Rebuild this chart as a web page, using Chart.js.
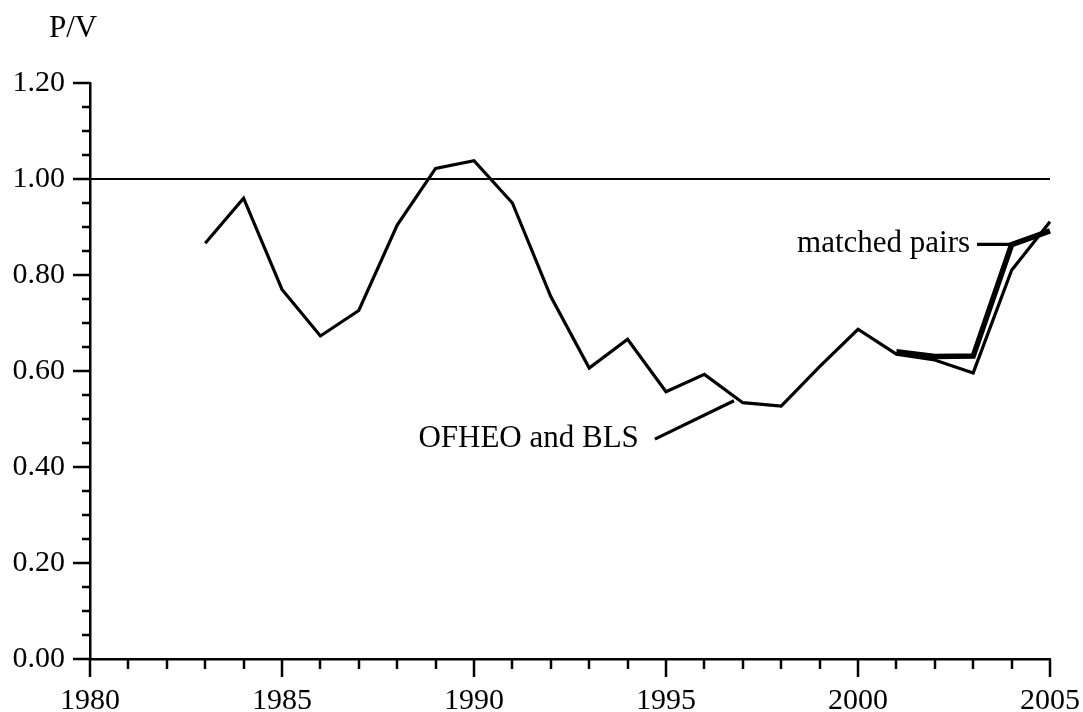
<!DOCTYPE html>
<html>
<head>
<meta charset="utf-8">
<script src="https://cdn.jsdelivr.net/npm/chart.js@4/dist/chart.umd.min.js"></script>
<style>
  body { margin: 0; background: #fff; }
  canvas { display: block; }
</style>
</head>
<body>
<canvas id="pvChart" width="1083" height="712"></canvas>
<script>
// years and values
const ofheoYears = [1983, 1984, 1985, 1986, 1987, 1988, 1989, 1990, 1991, 1992, 1993, 1994,
  1995, 1996, 1997, 1998, 1999, 2000, 2001, 2002, 2003, 2004, 2005];
const ofheoValues = [0.866, 0.960, 0.770, 0.673, 0.726, 0.904, 1.022, 1.038, 0.950, 0.755, 0.606, 0.666,
  0.557, 0.593, 0.534, 0.527, 0.609, 0.687, 0.635, 0.623, 0.596, 0.810, 0.911];

const matchedYears = [2001, 2002, 2003, 2004, 2005];
const matchedValues = [0.640, 0.630, 0.631, 0.863, 0.892];

const refLineYears = [1980, 2005];
const refLineValues = [1.0, 1.0];

const xMin = 1980, xMax = 2005;
const yMin = 0, yMax = 1.2;

// labels with leader lines (data coordinates)
const annotations = [
  { text: "OFHEO and BLS", x0: 1994.71, y0: 0.458, x1: 1996.77, y1: 0.538, gap: 16 },
  { text: "matched pairs", x0: 2003.1, y0: 0.864, x1: 2004.0, y1: 0.864, gap: 7 },
];

const FONT = "'Liberation Serif', 'Times New Roman', serif";

const toPoints = (xs, ys) => xs.map((x, i) => ({ x: x, y: ys[i] }));

// draws the tick marks (long for majors, short for minors) and the text
const decorPlugin = {
  id: "decor",
  afterDraw(chart) {
    const ctx = chart.ctx;
    const xs = chart.scales.x;
    const ys = chart.scales.y;
    const area = chart.chartArea;
    ctx.save();
    ctx.strokeStyle = "#000";
    ctx.lineWidth = 2.5;
    ctx.beginPath();
    for (let yr = xMin; yr <= xMax; yr++) {
      const px = Math.round(xs.getPixelForValue(yr));
      const len = yr % 5 === 0 ? 18 : 10;
      ctx.moveTo(px, area.bottom);
      ctx.lineTo(px, area.bottom + len);
    }
    for (let i = 0; i <= 24; i++) {
      const v = i * 0.05;
      const py = Math.round(ys.getPixelForValue(v));
      const len = i % 4 === 0 ? 17 : 8;
      ctx.moveTo(area.left, py);
      ctx.lineTo(area.left - len, py);
    }
    ctx.stroke();

    ctx.fillStyle = "#000";
    ctx.font = "31px " + FONT;
    ctx.textBaseline = "middle";
    ctx.textAlign = "right";
    annotations.forEach((a) => {
      const x0 = xs.getPixelForValue(a.x0), y0 = ys.getPixelForValue(a.y0);
      const x1 = xs.getPixelForValue(a.x1), y1 = ys.getPixelForValue(a.y1);
      ctx.lineWidth = 3.2;
      ctx.beginPath();
      ctx.moveTo(x0, y0);
      ctx.lineTo(x1, y1);
      ctx.stroke();
      ctx.fillText(a.text, x0 - a.gap, y0);
    });

    ctx.textAlign = "left";
    ctx.textBaseline = "alphabetic";
    ctx.fillText("P/V", 49, 37);
    ctx.restore();
  },
};

const ctx = document.getElementById("pvChart").getContext("2d");

const chart = new Chart(ctx, {
  type: "line",
  data: {
    datasets: [
      {
        label: "reference",
        data: toPoints(refLineYears, refLineValues),
        borderColor: "#000",
        borderWidth: 2.2,
      },
      {
        label: "OFHEO and BLS",
        data: toPoints(ofheoYears, ofheoValues),
        borderColor: "#000",
        borderWidth: 3.2,
        borderJoinStyle: "miter",
      },
      {
        label: "matched pairs",
        data: toPoints(matchedYears, matchedValues),
        borderColor: "#000",
        borderWidth: 5.5,
        borderJoinStyle: "miter",
      },
    ],
  },
  options: {
    responsive: false,
    animation: false,
    clip: false,
    elements: {
      point: { radius: 0 },
      line: { tension: 0, fill: false },
    },
    layout: {
      padding: { top: 83, right: 33, left: 0, bottom: 0 },
    },
    plugins: {
      legend: { display: false },
      tooltip: { enabled: false },
      title: { display: false },
    },
    scales: {
      x: {
        type: "linear",
        min: xMin,
        max: xMax,
        afterFit: (scale) => {
          scale.height = 53;
          scale.paddingLeft = 0;
          scale.paddingRight = 0;
        },
        border: { color: "#000", width: 2.5 },
        grid: { drawOnChartArea: false, tickLength: 18, tickColor: "rgba(0,0,0,0)" },
        ticks: {
          stepSize: 5,
          padding: 6,
          color: "#000",
          maxRotation: 0,
          font: { family: FONT, size: 30 },
          callback: (v) => String(v),
        },
      },
      y: {
        min: yMin,
        max: yMax,
        afterFit: (scale) => { scale.width = 90; },
        border: { color: "#000", width: 2.5 },
        grid: { drawOnChartArea: false, tickLength: 17, tickColor: "rgba(0,0,0,0)" },
        ticks: {
          stepSize: 0.2,
          padding: 8,
          color: "#000",
          font: { family: FONT, size: 30 },
          callback: (v) => Number(v).toFixed(2),
        },
      },
    },
  },
  plugins: [decorPlugin],
});
</script>
</body>
</html>
